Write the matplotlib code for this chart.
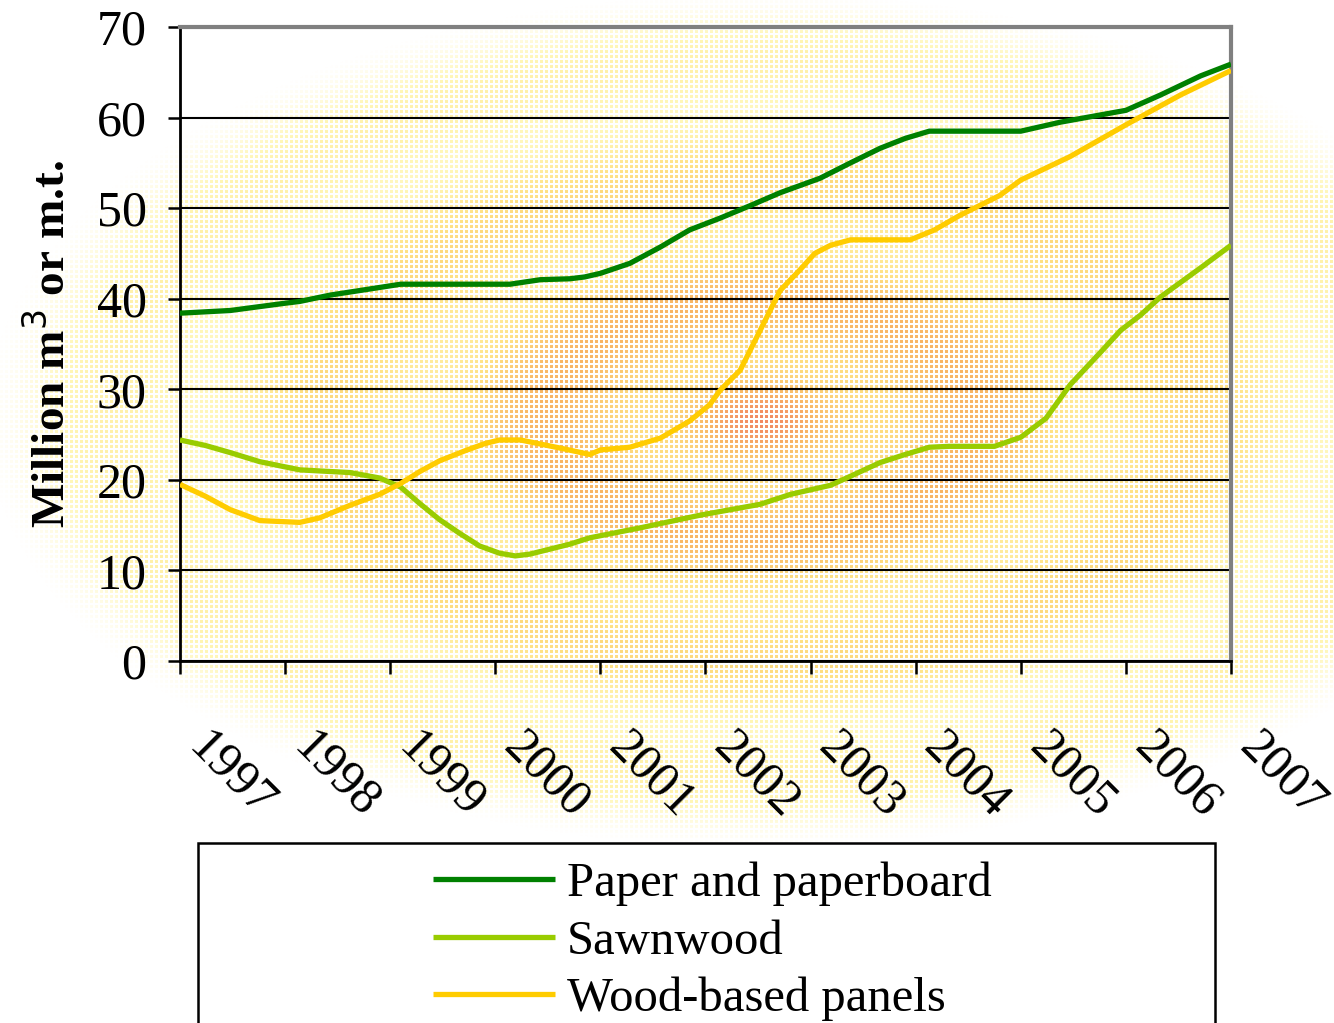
import numpy as np
import matplotlib.pyplot as plt
import matplotlib.transforms as mtrans
from matplotlib.colors import LinearSegmentedColormap
from matplotlib.patches import Rectangle

plt.rcParams['font.family'] = ['Liberation Serif', 'DejaVu Serif']

# values (years, million m3 or m.t.)
paper_x = [1997.0, 1997.48, 1998.0, 1998.14, 1998.43, 1999.1, 2000.0, 2000.14, 2000.43,
           2000.71, 2000.85, 2001.0, 2001.28, 2001.57, 2001.85, 2002.14, 2002.43, 2002.71,
           2003.09, 2003.38, 2003.66, 2003.9, 2004.13, 2005.0, 2005.38, 2006.0, 2006.33,
           2006.71, 2007.0]
paper_y = [38.4, 38.7, 39.5, 39.7, 40.4, 41.6, 41.6, 41.6, 42.1, 42.2, 42.4, 42.8, 43.9,
           45.7, 47.6, 48.9, 50.3, 51.7, 53.3, 55.0, 56.6, 57.7, 58.5, 58.5, 59.5, 60.8,
           62.5, 64.6, 65.9]

sawn_x = [1997.0, 1997.24, 1997.48, 1997.76, 1998.14, 1998.62, 1998.9, 1999.1, 1999.28,
          1999.47, 1999.66, 1999.85, 2000.04, 2000.19, 2000.33, 2000.71, 2000.9, 2001.38,
          2001.95, 2002.52, 2002.81, 2003.19, 2003.38, 2003.66, 2003.9, 2004.13, 2004.32,
          2004.75, 2005.0, 2005.24, 2005.47, 2005.76, 2005.95, 2006.14, 2006.33, 2006.71,
          2007.0]
sawn_y = [24.4, 23.8, 23.0, 22.0, 21.1, 20.8, 20.2, 19.2, 17.4, 15.6, 14.1, 12.7, 11.9,
          11.6, 11.8, 12.9, 13.6, 14.7, 16.1, 17.3, 18.4, 19.4, 20.4, 21.9, 22.8, 23.6,
          23.7, 23.7, 24.7, 26.8, 30.5, 34.1, 36.5, 38.2, 40.2, 43.4, 45.9]

panel_x = [1997.0, 1997.24, 1997.48, 1997.76, 1998.14, 1998.33, 1998.62, 1998.9, 1999.1,
           1999.28, 1999.47, 1999.71, 1999.9, 2000.04, 2000.24, 2000.62, 2000.9, 2001.0,
           2001.28, 2001.57, 2001.85, 2002.04, 2002.14, 2002.33, 2002.52, 2002.71, 2002.9,
           2003.04, 2003.19, 2003.38, 2003.95, 2004.18, 2004.42, 2004.8, 2005.0, 2005.47,
           2006.0, 2006.52, 2007.0]
panel_y = [19.5, 18.2, 16.7, 15.5, 15.3, 15.8, 17.2, 18.4, 19.6, 20.9, 22.1, 23.2, 24.0,
           24.4, 24.4, 23.5, 22.8, 23.3, 23.6, 24.6, 26.5, 28.3, 29.9, 32.1, 36.5, 40.9,
           43.2, 45.0, 45.9, 46.5, 46.5, 47.6, 49.2, 51.4, 53.1, 55.7, 59.2, 62.5, 65.2]

years = list(range(1997, 2008))
series = [
    ('Paper and paperboard', paper_x, paper_y, '#008000'),
    ('Sawnwood', sawn_x, sawn_y, '#99CC00'),
    ('Wood-based panels', panel_x, panel_y, '#FFCC00'),
]

fig = plt.figure(figsize=(13.34, 10.23), dpi=100)

# dotted radial background: white edge -> pale yellow -> orange rings -> mauve centre
W, H = 1334, 1023
yy, xx = np.mgrid[0:H, 0:W]
r = np.sqrt(((xx - 760) / 780.0) ** 2 + ((yy - 420) / 430.0) ** 2)
t = np.clip(r, 0, 1)
ripple = 0.5 + 0.5 * np.cos(t * 7 * np.pi)
v = np.clip(0.5 * (1 - t) + 0.35 * ripple * np.sqrt(1 - t), 0, 1)
cm = LinearSegmentedColormap.from_list('bg', [
    (0.0, '#FFFFFF'), (0.15, '#FFF7B8'), (0.4, '#FFE285'),
    (0.65, '#F9B866'), (0.85, '#F28A62'), (1.0, '#B46070')])
col = cm(v)[..., :3]
dots = ((xx % 5) < 3) & ((yy % 5) < 3)
img = np.ones((H, W, 3))
img[dots] = col[dots]
bg = fig.add_axes([0, 0, 1, 1], zorder=-10)
bg.imshow(img, aspect='auto', interpolation='nearest')
bg.axis('off')

ax = fig.add_axes([0.1349, 0.3539, 0.7879, 0.6197])
ax.patch.set_alpha(0)

for name, x, y, c in series:
    ax.plot(x, y, color=c, lw=3.8, label=name, solid_capstyle='butt', zorder=3)

ax.set_xlim(1997, 2007)
ax.set_ylim(0, 70)
ax.set_yticks(range(0, 71, 10))
ax.set_xticks(years)
ax.set_xticklabels([str(y) for y in years], rotation=-45, ha='left', va='top',
                   rotation_mode='anchor')
ax.grid(axis='y', color='black', lw=1.5)
ax.set_axisbelow(True)
ax.tick_params(axis='both', labelsize=36, length=9, width=1.8, direction='out')
ax.tick_params(axis='y', pad=15)
ax.tick_params(axis='x', pad=36)
shift = mtrans.ScaledTranslation(0.32, 0, fig.dpi_scale_trans)
for lab in ax.get_xticklabels():
    lab.set_transform(lab.get_transform() + shift)

for s in ['left', 'bottom']:
    ax.spines[s].set_color('black')
    ax.spines[s].set_linewidth(2)
for s in ['top', 'right']:
    ax.spines[s].set_color('#808080')
    ax.spines[s].set_linewidth(3)

ax.set_ylabel('Million m$^3$ or m.t.', fontsize=34, fontweight='bold', labelpad=16)

# legend box (runs off the bottom like the original)
fig.patches.append(Rectangle((198 / W, -0.05), 1017 / W, 0.05 + (1 - 843 / H),
                             transform=fig.transFigure, fill=True, facecolor='white',
                             edgecolor='black', lw=1.8, zorder=1))
fig.legend(loc='upper left', bbox_to_anchor=(433 / W, 1 - 862 / H), frameon=False,
           fontsize=35, handlelength=2.5, handletextpad=0.25, labelspacing=0.27,
           borderpad=0, borderaxespad=0)

fig.savefig('out.png', dpi=100)
